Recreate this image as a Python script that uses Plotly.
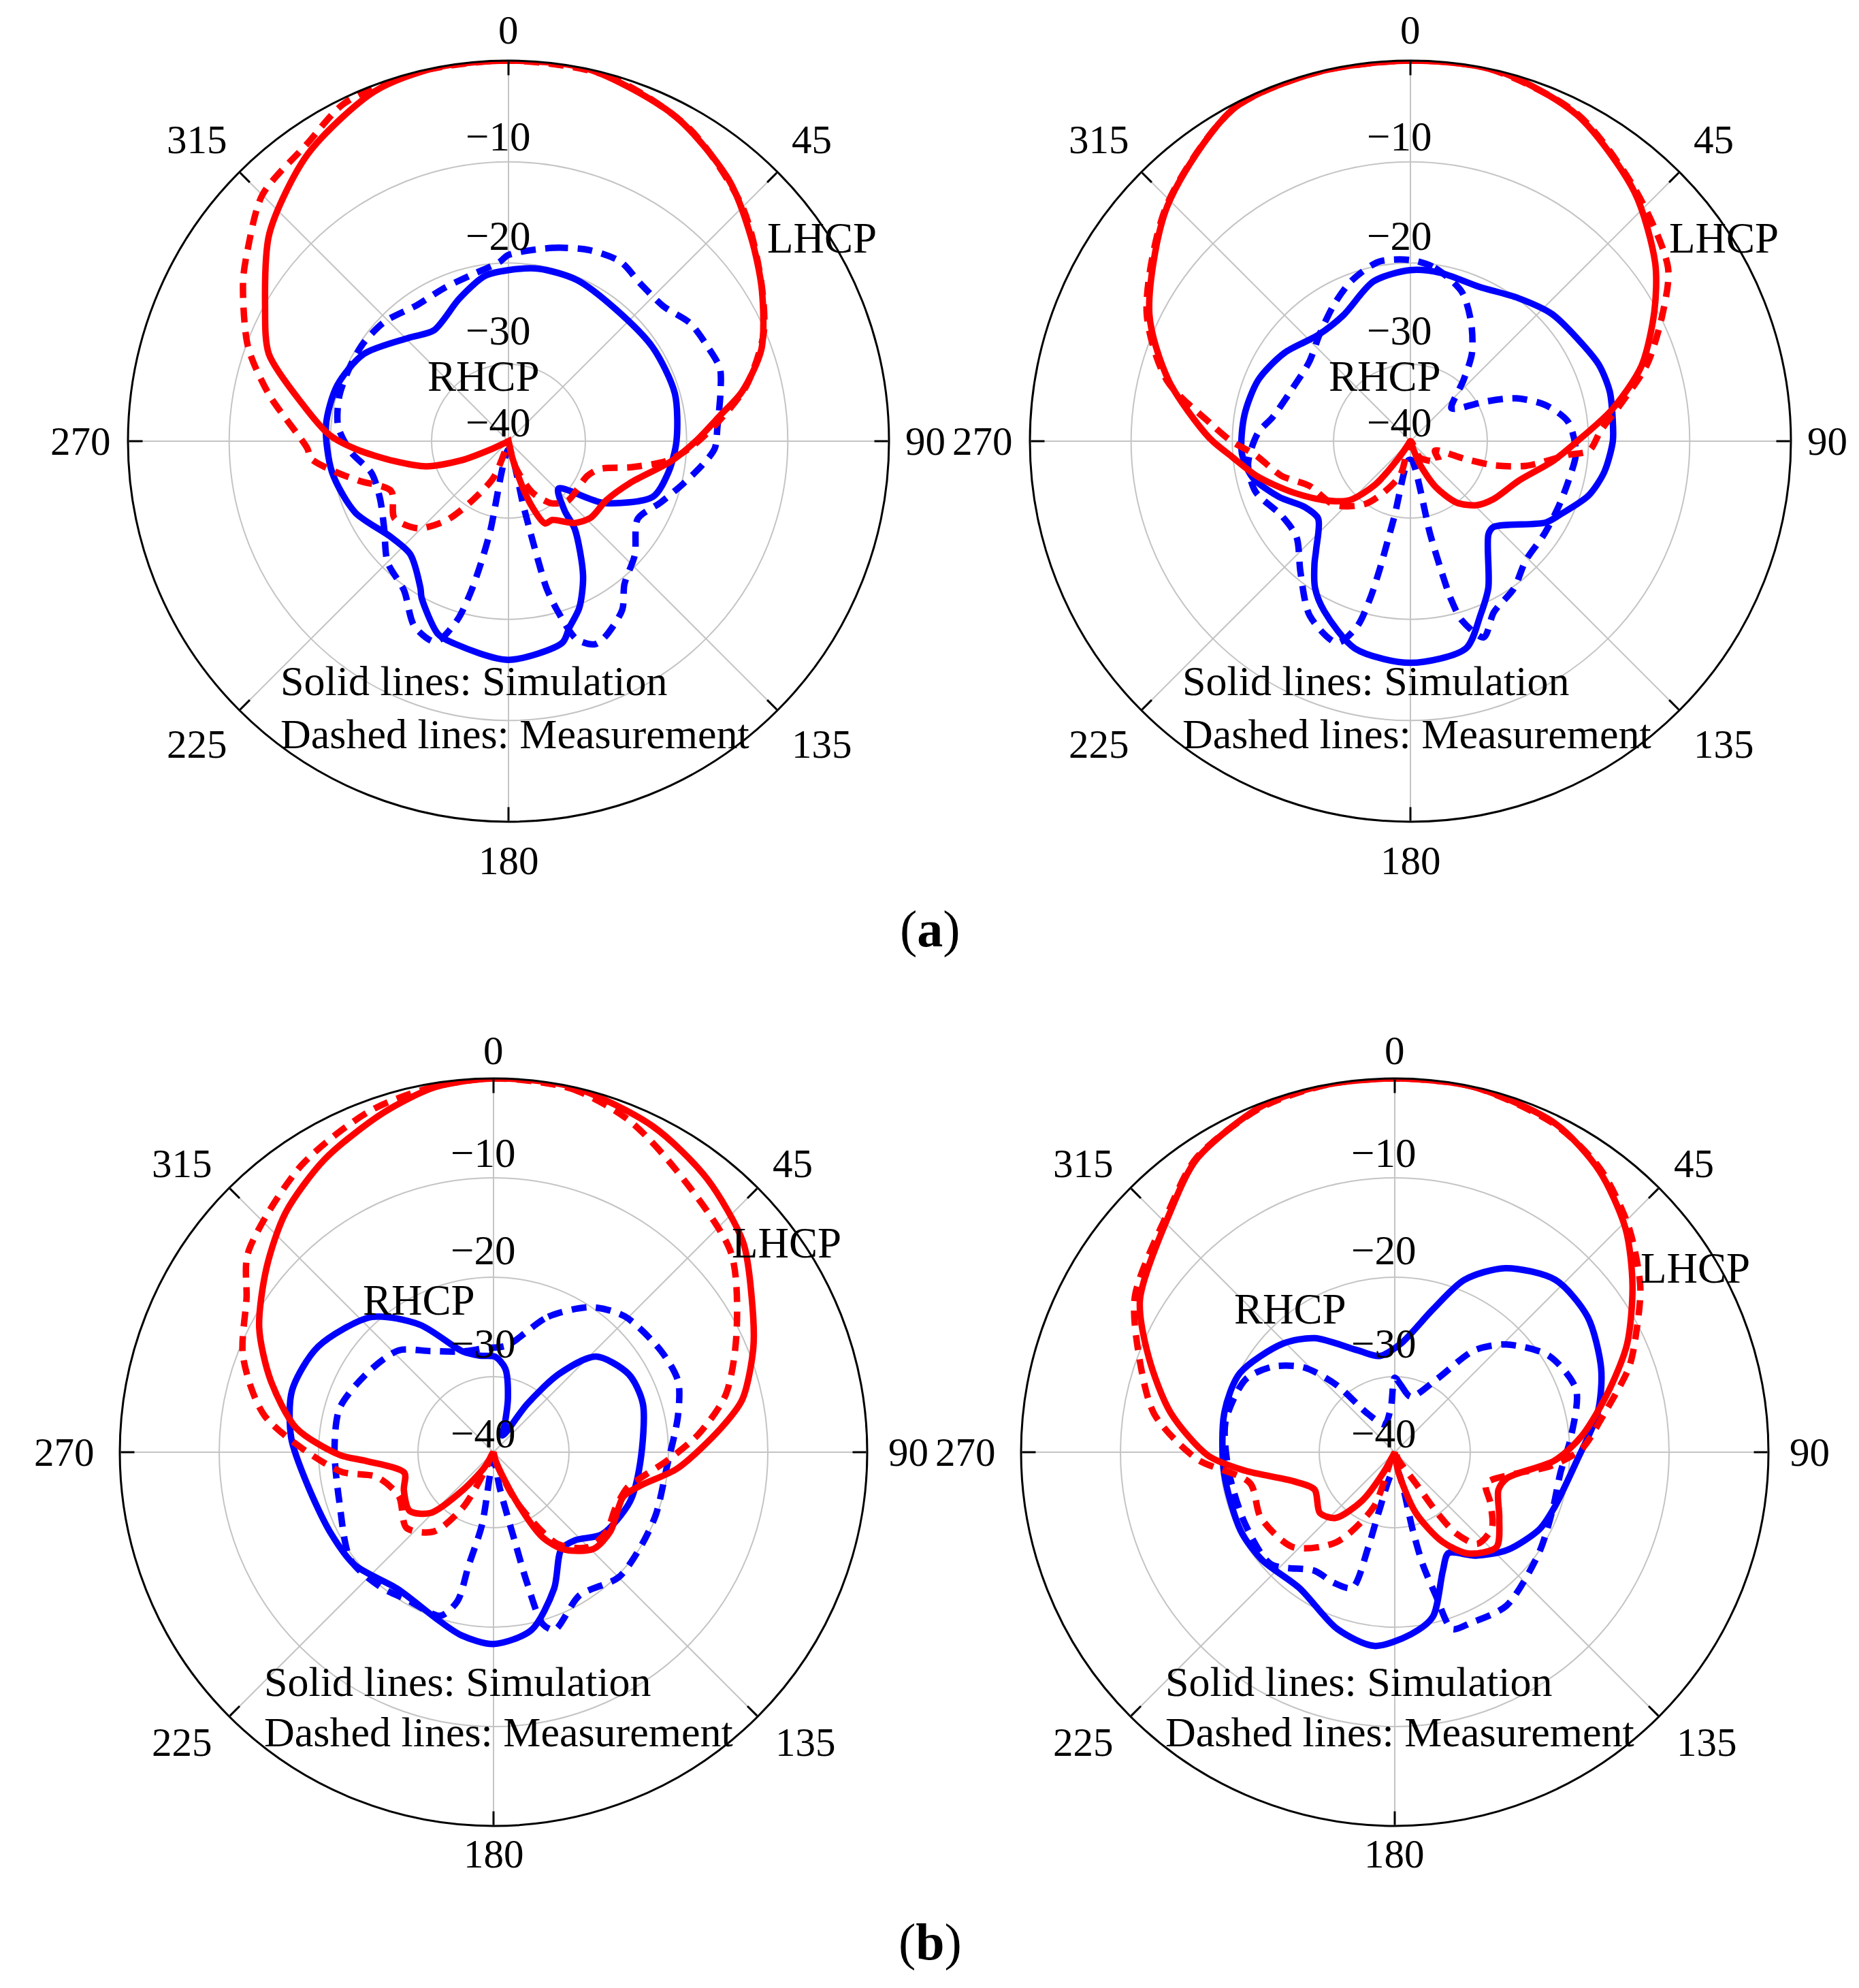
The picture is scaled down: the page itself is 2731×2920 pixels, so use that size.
import plotly.graph_objects as go

W, H = 2731, 2920
OFF = 8  # page body margin compensation
R_MIN = -37.6
FONT = "Liberation Serif"

ANG_TICKS = [0, 45, 90, 135, 180, 225, 270, 315]
ANG_LABELS = ["0", "45", "90", "135", "180", "225", "270", "315"]
RAD_TICKS = [-30, -20, -10]
RAD_LABELS = ["\u221210", "\u221220", "\u221230", "\u221240"]

# ---------------- (a) left ----------------
A1_LHCP_SIM_T = [0, 12, 27, 40, 50, 59, 70, 78, 83, 90, 97, 109, 121, 133, 141, 151, 156, 160, 163, 167, 172, 200, 240, 245, 248, 253, 260, 267, 272, 280, 290, 299, 311, 325, 339, 349, 360]
A1_LHCP_SIM_R = [0, 0, -1.5, -3.8, -6.3, -8.4, -11.0, -14.0, -16.5, -19.1, -21.4, -24.9, -26.3, -26.5, -27.2, -28.7, -28.7, -30.6, -32.9, -35.9, -37.6, -37.6, -37.6, -35.8, -32.5, -29.1, -26.2, -22.5, -19.9, -17.0, -12.4, -10.1, -6.3, -3.0, -0.6, 0, 0]
A1_LHCP_MEA_T = [0, 15, 30, 45, 57, 67, 77, 85, 92, 97, 102, 107, 114, 125, 135, 145, 155, 165, 173, 190, 202, 211, 218, 226, 236, 247, 255, 260, 265, 268, 281, 290, 301, 306, 315, 326, 334, 345, 360]
A1_LHCP_MEA_R = [0, -0.2, -1.9, -4.9, -7.9, -10.2, -13.5, -16.9, -19.6, -21.8, -25.2, -28.2, -29.1, -29.3, -29.3, -30.1, -32.0, -35.0, -37.6, -37.6, -33.8, -30.9, -27.7, -25.2, -24.0, -25.0, -22.4, -20.2, -18.0, -17.7, -13.5, -10.2, -7.0, -5.7, -3.2, -2.1, -0.5, 0, 0]
A1_RHCP_SIM_T = [0, 10, 23, 39, 57, 74, 90, 101, 111, 123, 133.5, 141, 143, 151, 157, 162, 165, 180, 195, 200, 209, 211, 221, 231, 245, 260, 275, 288, 301, 316, 326, 341, 352, 360]
A1_RHCP_SIM_R = [-20.7, -20.3, -20.3, -20.8, -20.6, -20.5, -21.0, -21.5, -22.3, -26.4, -30.8, -28.8, -26.7, -22.4, -19.7, -18.2, -17.0, -16.0, -16.9, -17.3, -19.9, -20.7, -22.8, -22.6, -20.9, -19.9, -19.5, -19.8, -20.9, -23.4, -24.4, -22.7, -21.1, -20.7]
A1_RHCP_MEA_T = [0, 13, 23, 32, 40, 49, 57, 65, 71, 77, 86, 92, 97, 104, 112, 121, 132, 141, 146, 154, 157, 161, 164, 165.5, 166, 166.5, 167, 178, 191.5, 192.7, 194, 196, 200, 207, 215, 225, 235, 246, 257, 266, 275, 285, 296, 304, 314, 326, 337, 347, 357, 360]
A1_RHCP_MEA_R = [-19.2, -18.0, -17.1, -16.7, -17.3, -17.3, -16.2, -15.8, -15.5, -16.1, -16.9, -17.2, -18.3, -19.9, -21.4, -22.7, -20.8, -19.4, -17.5, -16.0, -15.8, -16.9, -20.3, -22.6, -25.2, -28.4, -31.0, -36.8, -28.5, -25.3, -22.3, -19.2, -16.5, -17.1, -19.6, -20.7, -22.6, -23.7, -23.7, -22.0, -20.7, -20.3, -20.3, -20.3, -20.6, -21.4, -21.2, -20.8, -19.9, -19.2]

# ---------------- (a) right ----------------
A2_LHCP_SIM_T = [0, 13, 27, 42, 54, 62, 72, 81, 90, 98, 110, 125, 134, 143, 151, 158, 165, 205, 215, 219, 226, 236, 247, 257, 265, 271, 284, 296, 314, 332, 346, 360]
A2_LHCP_SIM_R = [0, 0, -1.4, -4.5, -7.7, -10.3, -13.6, -17.4, -21.1, -23.4, -26.2, -27.6, -28.5, -30.0, -32.4, -35.2, -37.6, -37.6, -35.6, -32.1, -29.2, -27.2, -24.8, -22.1, -19.9, -17.7, -13.0, -8.9, -4.2, -0.4, 0, 0]
A2_LHCP_MEA_T = [0, 12, 27, 42, 56, 63, 72, 80, 87, 93, 95, 102, 106, 108, 111, 125, 150, 175, 197, 215, 230, 246, 255, 265, 270, 275, 284, 296, 314, 332, 346, 360]
A2_LHCP_MEA_R = [0, 0, -1.3, -4.3, -6.9, -9.6, -13.0, -16.5, -18.8, -19.9, -22.0, -25.9, -28.9, -31.8, -35.0, -34.2, -35.7, -37.6, -34.0, -30.1, -27.8, -26.7, -24.4, -22.2, -19.9, -17.8, -12.8, -8.6, -4.1, -0.4, 0, 0]
A2_RHCP_SIM_T = [0, 10, 24, 37, 48, 59, 68, 76, 84, 90, 99, 107, 116, 121, 136, 140, 152, 158, 165, 180, 195, 207, 213, 218, 221, 230, 238, 247, 257, 266, 279, 292, 305, 319, 332, 347, 360]
A2_RHCP_SIM_R = [-20.7, -20.7, -20.9, -19.9, -18.8, -18.2, -17.5, -17.3, -17.5, -17.6, -18.2, -19.2, -21.1, -22.0, -25.8, -25.6, -21.2, -19.1, -16.4, -15.7, -16.4, -18.8, -20.3, -22.2, -23.4, -25.7, -25.3, -23.5, -21.6, -20.9, -21.0, -21.4, -22.4, -23.7, -23.5, -21.4, -20.7]
A2_RHCP_MEA_T = [0, 8, 19, 27, 35, 41, 51, 55, 62, 68, 75, 83, 94, 104, 114, 125, 136, 145, 154, 159.5, 164, 165.6, 166.7, 168, 176, 186, 192, 192.8, 193.5, 194.4, 196, 200, 210, 220, 230, 240, 252, 262, 273, 280, 296, 308, 320, 331, 340, 350, 360]
A2_RHCP_MEA_R = [-19.7, -20.3, -22.0, -24.4, -27.0, -29.6, -32.4, -32.0, -29.3, -26.3, -23.8, -21.9, -21.2, -21.5, -21.6, -21.5, -21.2, -19.8, -18.8, -16.9, -19.2, -21.5, -24.7, -28.2, -35.7, -35.7, -30.1, -27.7, -24.5, -21.5, -18.6, -16.4, -17.7, -20.7, -22.9, -22.9, -21.5, -21.4, -22.5, -23.8, -24.9, -24.9, -23.7, -22.1, -20.7, -19.6, -19.7]

# ---------------- (b) left ----------------
B1_LHCP_SIM_T = [0, 12, 26, 38, 50, 59, 68, 78, 84, 95, 103, 109, 124, 134, 144, 150, 155, 165, 175, 205, 211, 219, 226, 235, 247, 257, 266, 269, 277, 288, 298, 309, 319, 330, 342, 351, 360]
B1_LHCP_SIM_R = [0, 0, -1.1, -2.7, -4.8, -7.3, -9.4, -12.0, -14.6, -19.0, -22.5, -23.8, -23.4, -23.6, -25.5, -27.7, -32.1, -36.5, -37.6, -37.6, -35.8, -32.7, -28.8, -27.3, -27.8, -28.4, -24.8, -22.1, -17.6, -14.0, -10.9, -8.2, -5.7, -3.6, -1.7, -0.4, 0]
B1_LHCP_MEA_T = [0, 12, 22, 33, 50, 64, 76, 85, 93, 100, 105, 115, 125, 135, 145, 155, 165, 180, 205, 209, 217, 229, 245, 258, 263, 279, 291, 302, 309, 326, 340, 350, 360]
B1_LHCP_MEA_R = [0, -0.2, -1.5, -3.8, -6.4, -10.4, -13.5, -16.9, -20.2, -22.6, -23.7, -24.1, -23.7, -24.1, -26.3, -32.0, -36.5, -37.6, -35.3, -31.2, -27.6, -26.0, -27.1, -25.6, -22.0, -14.3, -10.6, -8.3, -5.8, -2.9, -1.1, -0.4, 0]
B1_RHCP_SIM_T = [1, 8, 15, 22, 28, 32, 35, 40, 47, 60, 72, 94, 110, 127, 137, 145, 156, 168, 180, 190, 199, 215, 231, 244, 260, 274, 287, 301, 318, 330, 343, 352, 361]
B1_RHCP_SIM_R = [-28.0, -29.1, -32.0, -34.6, -35.7, -35.3, -31.7, -27.3, -23.5, -21.9, -21.8, -22.8, -23.0, -23.9, -25.5, -25.7, -22.6, -19.3, -18.3, -18.9, -19.9, -20.8, -19.6, -19.3, -18.6, -17.2, -16.4, -17.0, -19.3, -22.8, -27.0, -27.8, -28.0]
B1_RHCP_MEA_T = [7, 22, 34, 44, 59, 69, 79, 95, 111, 123, 135, 149, 161, 164, 165.6, 166.5, 170, 180, 189, 192.4, 193.6, 198, 210, 220, 233, 252, 271, 286, 302, 317, 328, 343, 355, 367]
B1_RHCP_MEA_R = [-26.8, -22.9, -20.0, -18.6, -17.9, -17.7, -18.7, -20.1, -20.1, -20.0, -19.8, -20.8, -18.7, -19.6, -24.0, -28.2, -33.8, -36.8, -30.2, -25.9, -22.2, -20.3, -20.4, -19.9, -19.6, -21.3, -21.6, -21.5, -22.6, -23.6, -25.6, -27.0, -27.1, -26.8]

# ---------------- (b) right ----------------
B2_LHCP_SIM_T = [0, 12, 26, 36, 46, 55, 65, 74, 85, 93, 103, 110, 122, 133, 144, 152, 161, 170, 180, 200, 209, 214, 222, 231, 245, 254, 263, 269, 280, 291, 301, 317, 326, 339, 349, 360]
B2_LHCP_SIM_R = [0, 0, -0.8, -2.6, -5.3, -8.4, -11.8, -15.2, -18.7, -21.5, -26.0, -26.5, -25.2, -23.6, -25.0, -27.4, -31.2, -35.7, -37.6, -37.6, -35.3, -31.7, -28.7, -27.9, -28.7, -27.0, -22.4, -18.8, -14.7, -11.1, -7.7, -4.5, -2.0, -0.3, 0, 0]
B2_LHCP_MEA_T = [0, 12, 26, 36, 46, 56, 64, 70, 80, 89, 95, 100, 109, 118, 128, 138, 143, 145, 146, 155, 180, 201, 213, 227, 244, 258, 268, 279, 291, 301, 317, 326, 339, 350, 360]
B2_LHCP_MEA_R = [0, 0, -0.9, -2.4, -4.9, -7.8, -10.6, -12.5, -16.3, -18.8, -21.8, -25.2, -27.9, -26.7, -25.2, -25.2, -27.4, -30.1, -33.8, -36.8, -37.6, -31.7, -26.8, -23.6, -22.6, -22.7, -17.7, -13.1, -10.0, -7.1, -4.3, -1.9, -0.4, 0, 0]
B2_RHCP_SIM_T = [3, 15, 22, 31, 43, 55, 68, 79, 93, 109, 118, 131, 142, 152, 158, 167, 175, 186, 198, 215, 231, 243, 263, 283, 297, 314, 325, 340, 351, 363]
B2_RHCP_SIM_R = [-26.7, -22.7, -18.9, -16.0, -13.9, -13.9, -15.2, -16.8, -19.3, -20.6, -21.1, -22.6, -24.4, -26.1, -24.7, -20.6, -19.2, -18.0, -18.9, -20.9, -20.4, -20.2, -20.3, -20.0, -20.1, -21.9, -23.6, -26.7, -27.8, -26.7]
B2_RHCP_MEA_T = [0, 5, 16, 30, 38, 46, 58, 71, 85, 97, 110, 125, 144, 156, 162, 164, 166, 167, 172, 185, 195, 195.6, 197.4, 205, 214, 228, 244, 263, 280, 296, 305, 313, 319, 325, 340, 355, 360]
B2_RHCP_MEA_R = [-30.1, -30.8, -31.8, -29.1, -24.6, -22.0, -19.3, -18.3, -19.8, -20.8, -20.7, -19.9, -18.5, -18.8, -18.9, -22.6, -26.0, -29.5, -35.7, -35.7, -31.3, -27.6, -23.3, -23.1, -23.2, -20.8, -20.9, -20.8, -20.3, -20.9, -22.6, -25.1, -28.6, -32.9, -34.6, -33.1, -30.1]

# angular label offsets (px from centre) for top and bottom rows
ANG_OFF_TOP = [(0, -604), (445, -443), (612, 0), (460, 445), (0, 616), (-458, 445), (-629, 0), (-458, -443)]
ANG_OFF_BOT = [(0, -590), (439, -424), (609, 0), (458, 426), (0, 590), (-458, 426), (-631, 0), (-458, -424)]

PANELS = [
    dict(pid="polar", geom=(747, 648, 559), ang=ANG_OFF_TOP,
         curves=[(A1_RHCP_MEA_T, A1_RHCP_MEA_R, "blue", True), (A1_RHCP_SIM_T, A1_RHCP_SIM_R, "blue", False),
                 (A1_LHCP_MEA_T, A1_LHCP_MEA_R, "red", True), (A1_LHCP_SIM_T, A1_LHCP_SIM_R, "red", False)],
         lhcp=(460, -298), rhcp=(-37, -95), note=(-337, 352, 430)),
    dict(pid="polar2", geom=(2072, 648, 559), ang=ANG_OFF_TOP,
         curves=[(A2_RHCP_MEA_T, A2_RHCP_MEA_R, "blue", True), (A2_RHCP_SIM_T, A2_RHCP_SIM_R, "blue", False),
                 (A2_LHCP_MEA_T, A2_LHCP_MEA_R, "red", True), (A2_LHCP_SIM_T, A2_LHCP_SIM_R, "red", False)],
         lhcp=(460, -298), rhcp=(-37, -95), note=(-337, 352, 430)),
    dict(pid="polar3", geom=(725, 2133, 549), ang=ANG_OFF_BOT,
         curves=[(B1_RHCP_MEA_T, B1_RHCP_MEA_R, "blue", True), (B1_RHCP_SIM_T, B1_RHCP_SIM_R, "blue", False),
                 (B1_LHCP_MEA_T, B1_LHCP_MEA_R, "red", True), (B1_LHCP_SIM_T, B1_LHCP_SIM_R, "red", False)],
         lhcp=(430, -307), rhcp=(-110, -223), note=(-339, 337, 411)),
    dict(pid="polar4", geom=(2049, 2133, 549), ang=ANG_OFF_BOT,
         curves=[(B2_RHCP_MEA_T, B2_RHCP_MEA_R, "blue", True), (B2_RHCP_SIM_T, B2_RHCP_SIM_R, "blue", False),
                 (B2_LHCP_MEA_T, B2_LHCP_MEA_R, "red", True), (B2_LHCP_SIM_T, B2_LHCP_SIM_R, "red", False)],
         lhcp=(441, -270), rhcp=(-153, -210), note=(-339, 337, 411)),
]

LABEL_F = [0.80, 0.54, 0.29, 0.05]
TXT = 61

fig = go.Figure()
annotations = []


def px(x, y):
    return (x - OFF) / W, 1 - (y - OFF) / H


def add_text(x0, y0, text, size, xanchor="center"):
    x, y = px(x0, y0)
    annotations.append(dict(x=x, y=y, xref="paper", yref="paper", text=text, showarrow=False,
                            font=dict(family=FONT, size=size, color="black"),
                            xanchor=xanchor, yanchor="middle"))


layout_polars = {}
for p in PANELS:
    cx, cy, R = p["geom"]
    for th, rr, col, dashed in p["curves"]:
        fig.add_trace(go.Scatterpolar(
            theta=th, r=rr, mode="lines", subplot=p["pid"], showlegend=False,
            line=dict(color=col, width=9.5, shape="spline", smoothing=0.8,
                      dash="22px,14px" if dashed else "solid"),
            hoverinfo="skip"))
    x0, y1 = px(cx - R, cy - R)
    x1, y0 = px(cx + R, cy + R)
    layout_polars[p["pid"]] = dict(
        domain=dict(x=[x0, x1], y=[y0, y1]),
        bgcolor="white",
        radialaxis=dict(range=[R_MIN, 0], tickvals=RAD_TICKS, showticklabels=False, ticks="",
                        showline=False, gridcolor="#c4c4c4", gridwidth=2),
        angularaxis=dict(rotation=90, direction="clockwise", tickvals=ANG_TICKS, showticklabels=False,
                         showline=True, linecolor="black", linewidth=3, gridcolor="#c4c4c4", gridwidth=2,
                         ticks="inside", ticklen=20, tickwidth=3, tickcolor="black"),
    )
    for (dx, dy), lab in zip(p["ang"], ANG_LABELS):
        add_text(cx + dx, cy + dy, lab, 59)
    for f, lab in zip(LABEL_F, RAD_LABELS):
        add_text(cx - 16, cy - f * R, lab, TXT)
    lx, ly = p["lhcp"]
    add_text(cx + lx, cy + ly, "LHCP", TXT + 2)
    rx, ry = p["rhcp"]
    add_text(cx + rx, cy + ry, "RHCP", TXT + 2)
    nx, n1, n2 = p["note"]
    add_text(cx + nx, cy + n1, "Solid lines: Simulation", TXT + 1, "left")
    add_text(cx + nx, cy + n2, "Dashed lines: Measurement", TXT + 1, "left")

add_text(1366, 1365, "(<b>a</b>)", 76)
add_text(1366, 2852, "(<b>b</b>)", 76)

fig.update_layout(
    width=W, height=H, paper_bgcolor="white", plot_bgcolor="white",
    margin=dict(l=0, r=0, t=0, b=0), showlegend=False,
    annotations=annotations, **layout_polars)

fig.write_html("out.html")
